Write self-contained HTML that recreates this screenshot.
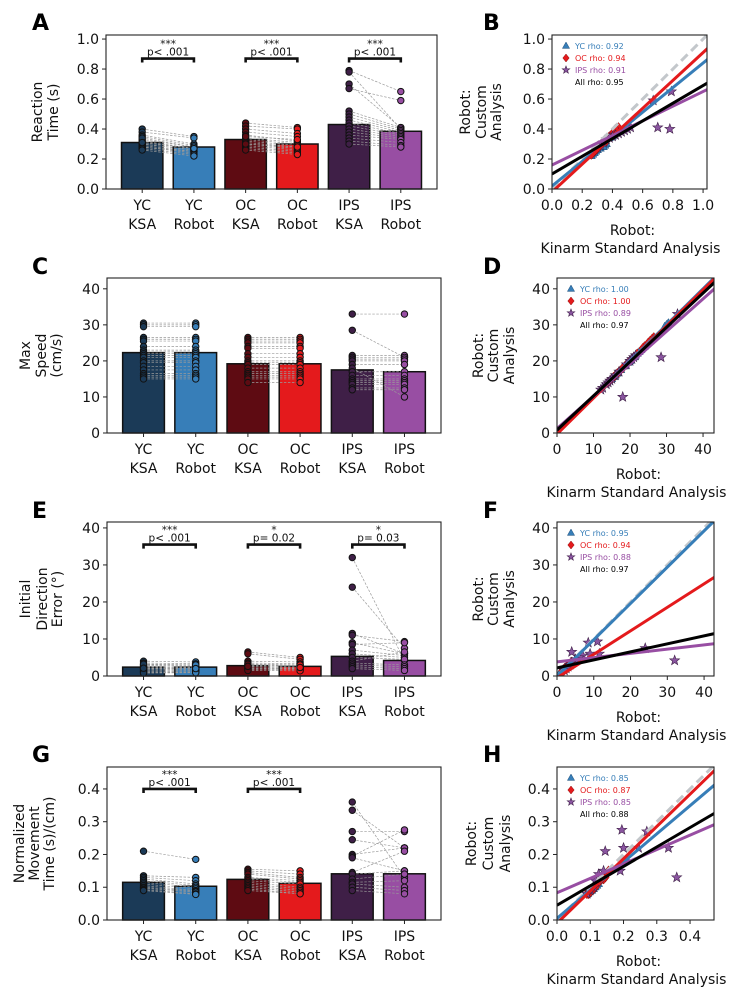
<!DOCTYPE html>
<html><head><meta charset="utf-8">
<style>
html,body{margin:0;padding:0;background:#fff;}
svg{display:block;font-family:"DejaVu Sans","Liberation Sans",sans-serif;}
</style></head>
<body>
<svg id="fig" width="744" height="998" viewBox="0 0 744 998" xmlns="http://www.w3.org/2000/svg"></svg>
<script>
// ---------- DATA ----------
const categories = ["YC KSA","YC Robot","OC KSA","OC Robot","IPS KSA","IPS Robot"];
// Panel A: reaction time
const rtMeans = [0.31,0.28,0.33,0.30,0.43,0.385];
const rtYcKsa = [0.40,0.38,0.36,0.35,0.33,0.32,0.31,0.30,0.30,0.29,0.28,0.28,0.27,0.26,0.34,0.31];
const rtYcRob = [0.35,0.34,0.30,0.29,0.28,0.27,0.27,0.26,0.26,0.25,0.25,0.24,0.23,0.22,0.28,0.27];
const rtOcKsa = [0.44,0.42,0.40,0.38,0.36,0.34,0.33,0.32,0.31,0.30,0.29,0.28,0.27,0.26,0.35,0.30];
const rtOcRob = [0.41,0.40,0.37,0.35,0.32,0.31,0.30,0.29,0.28,0.27,0.26,0.25,0.24,0.23,0.33,0.28];
const rtIpsKsa = [0.79,0.78,0.70,0.67,0.52,0.50,0.48,0.46,0.44,0.42,0.40,0.38,0.36,0.34,0.32,0.30];
const rtIpsRob = [0.65,0.40,0.41,0.59,0.41,0.40,0.39,0.38,0.37,0.36,0.35,0.34,0.33,0.31,0.29,0.28];
const rtSig = [["***","p< .001"],["***","p< .001"],["***","p< .001"]];
const rtSigLevel = 0.87;
const rtRho = ["0.92","0.94","0.91","0.95"];
const rtFitSlope = [0.82,0.93,0.49,0.59];
const rtFitIntercept = [0.02,-0.02,0.16,0.10];
const rtTicks = [0,0.2,0.4,0.6,0.8,1.0];
// Panel C: max speed
const msMeans = [22.3,22.3,19.2,19.2,17.5,17.0];
const msYcKsa = [30.5,30,29.5,26.5,26,25.5,24,23,22.5,22,21.5,21,20,19.5,18.5,17.5,16.5,16,15.5,15];
const msYcRob = [30.5,30,29.5,26.5,26,25.5,24,23,22.5,22,21.5,21,20,19.5,18.5,17.5,16.5,16,15.5,15];
const msOcKsa = [26.5,26,25.5,25,24,23.5,22,21,20,19.5,19,18,17,16.5,16,15.5,15,14];
const msOcRob = [26.5,26,25.5,25,24,23.5,22,21,20,19.5,19,18,17,16.5,16,15.5,15,14];
const msIpsKsa = [33,28.5,21.5,21,20.5,20,19,18,17,16,15,14.5,14,13.5,12.5,12];
const msIpsRob = [33,21,21.5,21,20.5,20,19,10,17,16,15,14.5,14,13.5,12.5,12];
const msSig = [];
const msSigLevel = 0;
const msRho = ["1.00","1.00","0.89","0.97"];
const msFitSlope = [1.0,1.0,0.90,0.95];
const msFitIntercept = [0,-0.3,1.2,0.8];
const msTicks = [0,10,20,30,40];
// Panel E: initial direction error
const ideMeans = [2.4,2.4,2.8,2.6,5.3,4.2];
const ideYcKsa = [4,3.5,3,2.8,2.5,2.3,2,1.8,1.5,1.2,1,0.8,3.2,2.1];
const ideYcRob = [3.8,3.3,3,2.7,2.4,2.2,2,1.7,1.5,1.3,1,0.9,3,2];
const ideOcKsa = [6.5,6,4,3.5,3,2.8,2.5,2.2,2,1.8,1.5,3.2,2.6];
const ideOcRob = [5,4.5,3.8,3.3,2.9,2.7,2.4,2.1,2,1.7,1.4,3,2.3];
const ideIpsKsa = [32,24,11.5,11,9,8.5,7,6,5,4,3.5,3,2.5,2];
const ideIpsRob = [4.2,7.5,6,9.3,6,9,5.5,5,4.5,6.5,3,2.5,2,1.5];
const ideSig = [["***","p< .001"],["*","p= 0.02"],["*","p= 0.03"]];
const ideSigLevel = 35.5;
const ideRho = ["0.95","0.94","0.88","0.97"];
const ideFitSlope = [0.98,0.635,0.115,0.216];
const ideFitIntercept = [0,-0.5,3.8,2.2];
const ideTicks = [0,10,20,30,40];
// Panel G: normalized movement time
const nmtMeans = [0.115,0.103,0.124,0.112,0.141,0.141];
const nmtYcKsa = [0.21,0.135,0.13,0.125,0.12,0.115,0.11,0.105,0.10,0.097,0.093,0.09];
const nmtYcRob = [0.185,0.13,0.12,0.11,0.105,0.10,0.095,0.09,0.088,0.085,0.08,0.078];
const nmtOcKsa = [0.155,0.15,0.145,0.14,0.13,0.125,0.12,0.115,0.11,0.105,0.10,0.095,0.09];
const nmtOcRob = [0.15,0.14,0.13,0.125,0.12,0.115,0.11,0.10,0.095,0.09,0.085,0.08,0.08];
const nmtIpsKsa = [0.36,0.335,0.27,0.245,0.2,0.195,0.19,0.145,0.14,0.125,0.115,0.11,0.10,0.09];
const nmtIpsRob = [0.13,0.22,0.27,0.22,0.22,0.275,0.15,0.21,0.15,0.14,0.12,0.10,0.09,0.08];
const nmtSig = [["***","p< .001"],["***","p< .001"]];
const nmtSigLevel = 0.40;
const nmtRho = ["0.85","0.87","0.85","0.88"];
const nmtFitSlope = [0.86,0.985,0.44,0.593];
const nmtFitIntercept = [0.005,-0.01,0.083,0.045];
const nmtTicks = [0,0.1,0.2,0.3,0.4];

// ---------- STYLE / LAYOUT ----------
const barColors = ["#1b3a57","#377eb8","#5e0b12","#e41a1c","#3f1f47","#984ea3"];
const FS = 14;
const NS = "http://www.w3.org/2000/svg";
const svg = document.getElementById("fig");
function mk(tag, attrs, parent){
  const e = document.createElementNS(NS, tag);
  for (const k in attrs) e.setAttribute(k, attrs[k]);
  (parent||svg).appendChild(e);
  return e;
}
function txt(s, attrs, parent){ const t = mk("text", attrs, parent); t.textContent = s; return t; }

let clipId = 0;
function barPanel(cfg){
  const g = mk("g", {});
  
  
  const {L,R,T,B,ymax} = cfg;
  const step = (R-L)/6.4;
  const xc = i => L + (0.7 + i)*step;
  const ys = v => B - v/ymax*(B-T);
  const groups = [cfg.ycK,cfg.ycR,cfg.ocK,cfg.ocR,cfg.ipK,cfg.ipR];
  cfg.means.forEach((m,i)=>{
    const r = mk("rect",{x:xc(i)-0.4*step,y:ys(m),width:0.8*step,height:B-ys(m),fill:barColors[i],stroke:"#111","stroke-width":1.5}, g);
    
    
  });
  for (let p=0;p<3;p++){
    const a = groups[2*p], b = groups[2*p+1];
    a.forEach((v,k)=>{
      const l = mk("line",{x1:xc(2*p),y1:ys(v),x2:xc(2*p+1),y2:ys(b[k]),stroke:"#9a9a9a","stroke-width":0.7,"stroke-dasharray":"2.5,1.5"}, g);
      
      
    });
  }
  groups.forEach((arr,i)=>{
    arr.forEach(v=>{
      const c = mk("circle",{cx:xc(i),cy:ys(v),r:3.2,fill:barColors[i],stroke:"#111","stroke-width":1}, g);
      
      
    });
  });
  const f = mk("rect",{x:L,y:T,width:R-L,height:B-T,fill:"none",stroke:"#222","stroke-width":1.1}, g);
  
  
  cfg.ticks.forEach(v=>{
    mk("line",{x1:L-4,x2:L,y1:ys(v),y2:ys(v),stroke:"#222","stroke-width":1}, g);
    const t = txt(cfg.fmt(v),{x:L-7,y:ys(v)+5,"text-anchor":"end","font-size":FS,fill:"#111"}, g);
    
    
  });
  categories.forEach((c,i)=>{
    mk("line",{x1:xc(i),x2:xc(i),y1:B,y2:B+4,stroke:"#222","stroke-width":1}, g);
    const parts = c.split(" ");
    const t1 = txt(parts[0],{x:xc(i),y:B+21,"text-anchor":"middle","font-size":FS,fill:"#111"}, g);
    
    
    const t2 = txt(parts[1],{x:xc(i),y:B+40,"text-anchor":"middle","font-size":FS,fill:"#111"}, g);
    
    
  });
  cfg.sig.forEach((s,p)=>{
    const y = ys(cfg.sigLevel), x1 = xc(2*p), x2 = xc(2*p+1);
    const br = mk("path",{d:`M${x1},${y+4}V${y}H${x2}V${y+4}`,fill:"none",stroke:"#111","stroke-width":2.6}, g);
    
    
    const st = txt(s[0],{x:(x1+x2)/2,y:y-11,"text-anchor":"middle","font-size":10.5,fill:"#111"}, g);
    
    
    const pt = txt(s[1],{x:(x1+x2)/2,y:y-3,"text-anchor":"middle","font-size":10.5,fill:"#111"}, g);
    
    
  });
  const ym = (T+B)/2;
  cfg.ylabel.forEach((s,k)=>{
    const x = cfg.ylx[k];
    const t = txt(s,{x:x,y:ym,"text-anchor":"middle","dominant-baseline":"central","font-size":FS,fill:"#111",transform:`rotate(-90 ${x} ${ym})`}, g);
    
    
  });
  const lt = txt(cfg.letter,{x:cfg.lx,y:cfg.ly,"font-size":22,"font-weight":"bold",fill:"#000"}, g);
  
  
}

function starPts(cx,cy,r){
  let s=[]; for(let k=0;k<10;k++){const a=-Math.PI/2+k*Math.PI/5; const rr=k%2?r*0.42:r; s.push((cx+rr*Math.cos(a)).toFixed(2)+","+(cy+rr*Math.sin(a)).toFixed(2));} return s.join(" ");
}
function marker(shape,cx,cy,sz,parent,name){
  let e;
  if(shape==="tri") e = mk("polygon",{points:`${cx},${cy-sz} ${cx-sz*0.9},${cy+sz*0.6} ${cx+sz*0.9},${cy+sz*0.6}`,fill:"#377eb8",stroke:"#1f4f7a","stroke-width":0.5},parent);
  else if(shape==="dia") e = mk("polygon",{points:`${cx},${cy-sz} ${cx+sz*0.8},${cy} ${cx},${cy+sz} ${cx-sz*0.8},${cy}`,fill:"#e41a1c",stroke:"#8a1010","stroke-width":0.5},parent);
  else e = mk("polygon",{points:starPts(cx,cy,sz),fill:"#8a55a0",stroke:"#3f1f47","stroke-width":0.6},parent);
  
  
  return e;
}

function scatterPanel(cfg){
  const g = mk("g", {});
  
  
  const {L,R,T,B,xmax,ymax} = cfg;
  const xs = v => L + v/xmax*(R-L);
  const ys = v => B - v/ymax*(B-T);
  const id = "clip"+(clipId++);
  const cp = mk("clipPath",{id:id}, g);
  mk("rect",{x:L,y:T,width:R-L,height:B-T}, cp);
  const inner = mk("g",{"clip-path":`url(#${id})`}, g);
  const shapes = ["tri","dia","star"];
  const names = ["yc-point","oc-point","ips-point"];
  const sets = [[cfg.ycK,cfg.ycR],[cfg.ocK,cfg.ocR],[cfg.ipK,cfg.ipR]];
  const sizes = [4.5,5,5.2];
  sets.forEach((s,j)=>{
    s[0].forEach((v,k)=>{ marker(shapes[j], xs(v), ys(s[1][k]), sizes[j], inner, names[j]); });
  });
  const idl = mk("line",{x1:xs(0),y1:ys(0),x2:xs(xmax*1.2),y2:ys(xmax*1.2),stroke:"#c3c7cb","stroke-width":3,"stroke-dasharray":"9,5"}, inner);
  
  
  const lineColors = ["#377eb8","#e41a1c","#984ea3","#000"];
  const lineNames = ["yc-fit-line","oc-fit-line","ips-fit-line","all-fit-line"];
  [0,1,2,3].forEach(j=>{
    const x2 = xmax*1.05;
    const l = mk("line",{x1:xs(0),y1:ys(cfg.icpt[j]),x2:xs(x2),y2:ys(cfg.icpt[j]+cfg.slope[j]*x2),stroke:lineColors[j],"stroke-width":3}, inner);
    
    
  });
  const f = mk("rect",{x:L,y:T,width:R-L,height:B-T,fill:"none",stroke:"#222","stroke-width":1.1}, g);
  
  
  cfg.ticks.forEach(v=>{
    mk("line",{x1:L-4,x2:L,y1:ys(v),y2:ys(v),stroke:"#222","stroke-width":1}, g);
    const t = txt(cfg.fmt(v),{x:L-7,y:ys(v)+5,"text-anchor":"end","font-size":FS,fill:"#111"}, g);
    
    
    mk("line",{x1:xs(v),x2:xs(v),y1:B,y2:B+4,stroke:"#222","stroke-width":1}, g);
    const t2 = txt(cfg.fmt(v),{x:xs(v),y:B+21,"text-anchor":"middle","font-size":FS,fill:"#111"}, g);
    
    
  });
  const legColors = ["#377eb8","#e41a1c","#984ea3","#000"];
  const legLabels = ["YC","OC","IPS","All"];
  legLabels.forEach((lab,j)=>{
    const y = T + 11 + j*12;
    if (j<3) marker(shapes[j], L+14, y, 4, g, 'legend-marker');
    const t = txt(lab+" rho: "+cfg.rho[j],{x:L+23,y:y+3,"font-size":8,fill:legColors[j]}, g);
    
    
  });
  const xm = (L+R)/2 + 3;
  const xl1 = txt("Robot:",{x:xm,y:B+46,"text-anchor":"middle","font-size":FS,fill:"#111"}, g);
  
  
  const xl2 = txt("Kinarm Standard Analysis",{x:xm-2,y:B+64,"text-anchor":"middle","font-size":FS,fill:"#111"}, g);
  
  
  const ym = (T+B)/2;
  ["Robot:","Custom","Analysis"].forEach((s,k)=>{
    const x = L + cfg.ylOff[k];
    const t = txt(s,{x:x,y:ym,"text-anchor":"middle","dominant-baseline":"central","font-size":FS,fill:"#111",transform:`rotate(-90 ${x} ${ym})`}, g);
    
    
  });
  const lt = txt(cfg.letter,{x:cfg.lx,y:cfg.ly,"font-size":22,"font-weight":"bold",fill:"#000"}, g);
  
  
}

const f1 = v => v.toFixed(1);
const f0 = v => String(v);

barPanel({name:"reaction-time",letter:"A",lx:32,ly:30,L:106,R:437,T:35,B:189,ymax:1.027,ticks:rtTicks,fmt:f1,
  means:rtMeans,ycK:rtYcKsa,ycR:rtYcRob,ocK:rtOcKsa,ocR:rtOcRob,ipK:rtIpsKsa,ipR:rtIpsRob,sig:rtSig,sigLevel:rtSigLevel,
  ylabel:["Reaction","Time (s)"],ylx:[38,54]});
scatterPanel({name:"reaction-time",letter:"B",lx:483,ly:30,L:552,R:707,T:35,B:189,xmax:1.026,ymax:1.027,ticks:rtTicks,fmt:f1,
  ycK:rtYcKsa,ycR:rtYcRob,ocK:rtOcKsa,ocR:rtOcRob,ipK:rtIpsKsa,ipR:rtIpsRob,rho:rtRho,slope:rtFitSlope,icpt:rtFitIntercept,ylOff:[-86,-70,-55]});

barPanel({name:"max-speed",letter:"C",lx:32,ly:274,L:107,R:441,T:278,B:433,ymax:43,ticks:msTicks,fmt:f0,
  means:msMeans,ycK:msYcKsa,ycR:msYcRob,ocK:msOcKsa,ocR:msOcRob,ipK:msIpsKsa,ipR:msIpsRob,sig:msSig,sigLevel:msSigLevel,
  ylabel:["Max","Speed","(cm/s)"],ylx:[26,42,57]});
scatterPanel({name:"max-speed",letter:"D",lx:483,ly:274,L:557,R:714,T:278,B:433,xmax:43,ymax:43,ticks:msTicks,fmt:f0,
  ycK:msYcKsa,ycR:msYcRob,ocK:msOcKsa,ocR:msOcRob,ipK:msIpsKsa,ipR:msIpsRob,rho:msRho,slope:msFitSlope,icpt:msFitIntercept,ylOff:[-78,-63,-47]});

barPanel({name:"initial-direction-error",letter:"E",lx:32,ly:518,L:107,R:441,T:522,B:676,ymax:41.6,ticks:ideTicks,fmt:f0,
  means:ideMeans,ycK:ideYcKsa,ycR:ideYcRob,ocK:ideOcKsa,ocR:ideOcRob,ipK:ideIpsKsa,ipR:ideIpsRob,sig:ideSig,sigLevel:ideSigLevel,
  ylabel:["Initial","Direction","Error (°)"],ylx:[26,43,58]});
scatterPanel({name:"initial-direction-error",letter:"F",lx:483,ly:518,L:557,R:714,T:522,B:676,xmax:42.7,ymax:41.6,ticks:ideTicks,fmt:f0,
  ycK:ideYcKsa,ycR:ideYcRob,ocK:ideOcKsa,ocR:ideOcRob,ipK:ideIpsKsa,ipR:ideIpsRob,rho:ideRho,slope:ideFitSlope,icpt:ideFitIntercept,ylOff:[-78,-63,-47]});

barPanel({name:"normalized-movement-time",letter:"G",lx:32,ly:762,L:107,R:441,T:767,B:920,ymax:0.467,ticks:nmtTicks,fmt:f1,
  means:nmtMeans,ycK:nmtYcKsa,ycR:nmtYcRob,ocK:nmtOcKsa,ocR:nmtOcRob,ipK:nmtIpsKsa,ipR:nmtIpsRob,sig:nmtSig,sigLevel:nmtSigLevel,
  ylabel:["Normalized","Movement","Time (s)/(cm)"],ylx:[20,35,50]});
scatterPanel({name:"normalized-movement-time",letter:"H",lx:483,ly:762,L:557,R:714,T:767,B:920,xmax:0.472,ymax:0.467,ticks:nmtTicks,fmt:f1,
  ycK:nmtYcKsa,ycR:nmtYcRob,ocK:nmtOcKsa,ocR:nmtOcRob,ipK:nmtIpsKsa,ipR:nmtIpsRob,rho:nmtRho,slope:nmtFitSlope,icpt:nmtFitIntercept,ylOff:[-85,-68,-51]});
</script>
</body></html>
